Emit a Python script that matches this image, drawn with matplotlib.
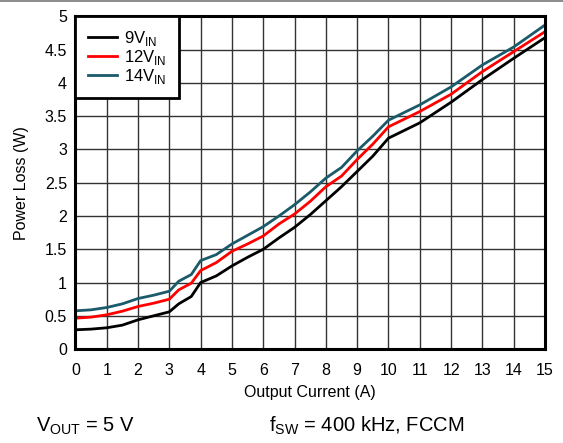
import matplotlib
matplotlib.use('Agg')
from matplotlib import pyplot as plt
from matplotlib.lines import Line2D

plt.rcParams['font.family'] = ['Liberation Sans', 'DejaVu Sans']
plt.rcParams['mathtext.fontset'] = 'custom'
plt.rcParams['mathtext.rm'] = 'Liberation Sans'

current = [0, 0.5, 1, 1.5, 2, 2.5, 3, 3.3, 3.7, 4, 4.5, 5, 5.5, 6, 6.5, 7,
           7.5, 8, 8.5, 9, 9.5, 10, 11, 12, 13, 14, 15]
loss_9v = [0.29, 0.30, 0.32, 0.36, 0.44, 0.50, 0.56, 0.68, 0.79, 1.0, 1.1,
           1.25, 1.38, 1.5, 1.67, 1.83, 2.02, 2.23, 2.44, 2.67, 2.9, 3.17,
           3.4, 3.71, 4.05, 4.37, 4.68]
loss_12v = [0.465, 0.48, 0.515, 0.57, 0.64, 0.69, 0.75, 0.89, 0.99, 1.18,
            1.3, 1.47, 1.58, 1.70, 1.88, 2.03, 2.22, 2.44, 2.6, 2.85, 3.08,
            3.34, 3.57, 3.83, 4.17, 4.47, 4.77]
loss_14v = [0.575, 0.59, 0.625, 0.68, 0.76, 0.81, 0.87, 1.02, 1.12, 1.33,
            1.42, 1.58, 1.71, 1.84, 2.0, 2.17, 2.36, 2.57, 2.73, 2.98, 3.2,
            3.44, 3.67, 3.94, 4.27, 4.54, 4.87]

fig = plt.figure(figsize=(5.63, 4.43), dpi=100)
ax = fig.add_axes([0.134, 0.212, 0.834, 0.751])

ax.plot(current, loss_9v, color='black', lw=2, label='9V$_{\\mathregular{IN}}$')
ax.plot(current, loss_12v, color='#ff0000', lw=2, label='12V$_{\\mathregular{IN}}$')
ax.plot(current, loss_14v, color='#1a5a6a', lw=2, label='14V$_{\\mathregular{IN}}$')

ax.set_xlim(0, 15)
ax.set_ylim(0, 5)
ax.set_xticks(range(0, 16))
ax.set_yticks([0, 0.5, 1, 1.5, 2, 2.5, 3, 3.5, 4, 4.5, 5])
ax.set_yticklabels(['0', '0.5', '1', '1.5', '2', '2.5', '3', '3.5', '4', '4.5', '5'])
ax.tick_params(length=0, labelsize=11.5)
ax.tick_params(axis='x', pad=10)
ax.tick_params(axis='y', pad=6)
ax.grid(True, color='#333333', lw=1)
for s in ax.spines.values():
    s.set_linewidth(2.2)

ax.set_xlabel('Output Current (A)', fontsize=11.5, labelpad=5)
ax.set_ylabel('Power Loss (W)', fontsize=11.5, labelpad=11)

leg = ax.legend(loc='upper left', fontsize=12, fancybox=False, framealpha=1,
                borderaxespad=0, handlelength=1.75, handletextpad=0.4,
                labelspacing=0.0, borderpad=0.75)
leg.get_frame().set_edgecolor('black')
leg.get_frame().set_linewidth(2)

fig.text(0.064, 0.025, 'V$_{\\mathregular{OUT}}$ = 5 V', fontsize=14.5)
fig.text(0.478, 0.025, 'f$_{\\mathregular{SW}}$ = 400 kHz, FCCM', fontsize=14.5)
fig.add_artist(Line2D([0, 1], [0.998, 0.998], color='#777777', lw=1.2))

fig.savefig('out.png', dpi=100)
